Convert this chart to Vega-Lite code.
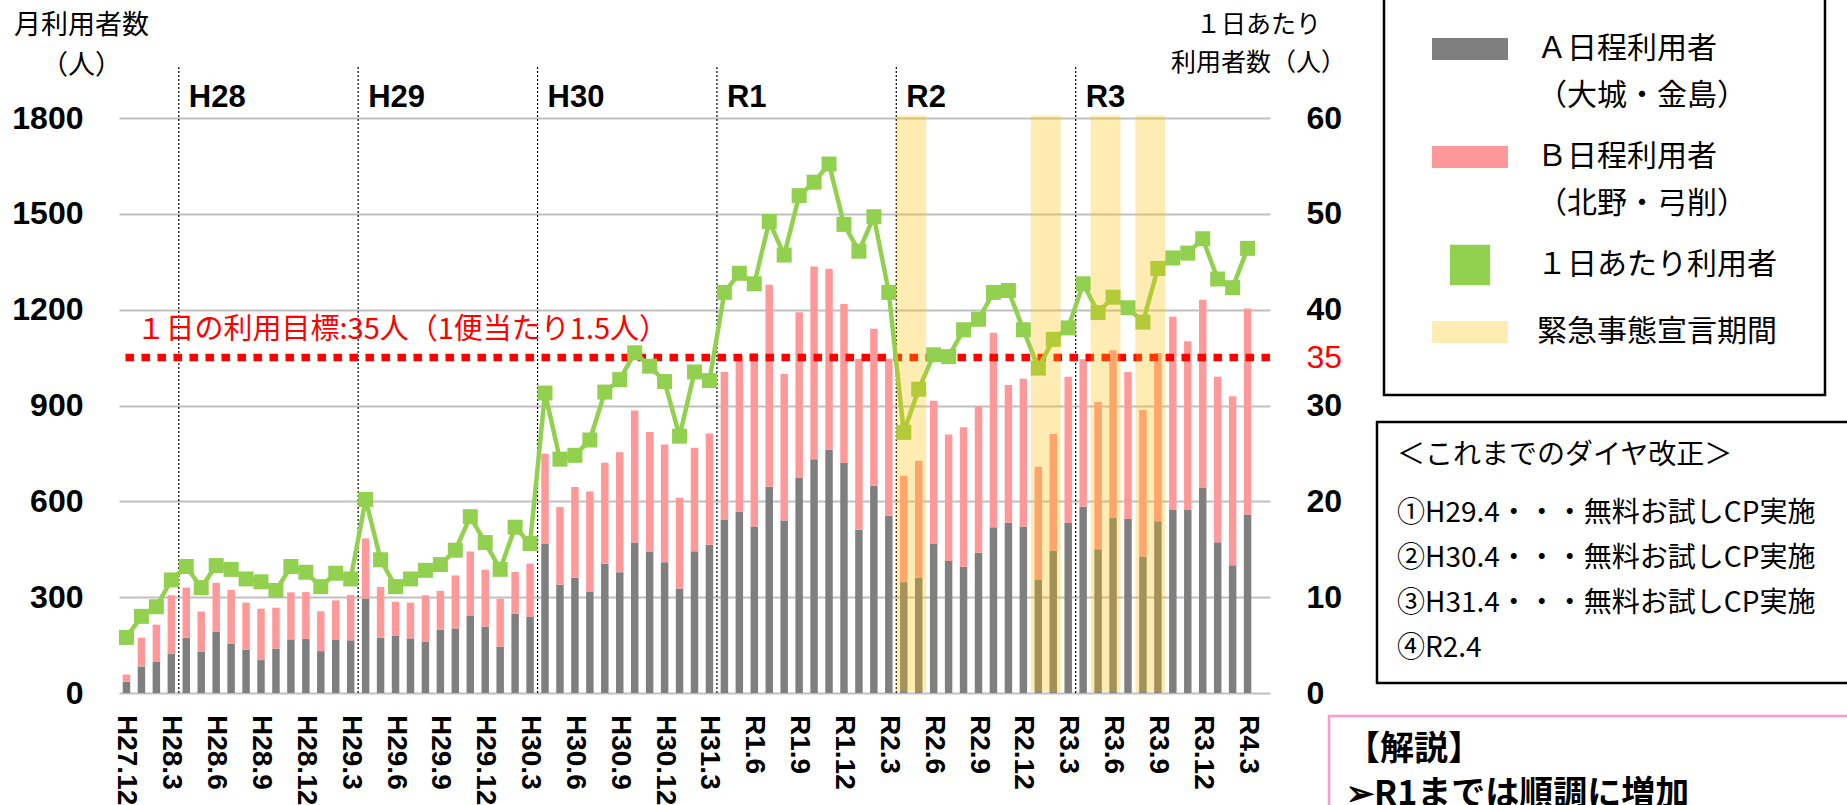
{
  "$schema": "https://vega.github.io/schema/vega-lite/v6.json",
  "width": 1151,
  "height": 575,
  "autosize": {"type": "none"},
  "padding": {"left": 119, "top": 118, "right": 577, "bottom": 112},
  "background": "white",
  "datasets": {
    "monthly": [
      {"month": "H27.12", "a": 35, "b": 23, "daily": 5.8},
      {"month": "H28.1", "a": 83, "b": 90, "daily": 8.0},
      {"month": "H28.2", "a": 97, "b": 117, "daily": 9.0},
      {"month": "H28.3", "a": 122, "b": 184, "daily": 11.8},
      {"month": "H28.4", "a": 173, "b": 157, "daily": 13.2},
      {"month": "H28.5", "a": 130, "b": 125, "daily": 11.0},
      {"month": "H28.6", "a": 192, "b": 153, "daily": 13.3},
      {"month": "H28.7", "a": 154, "b": 169, "daily": 12.9},
      {"month": "H28.8", "a": 136, "b": 147, "daily": 11.9},
      {"month": "H28.9", "a": 103, "b": 161, "daily": 11.6},
      {"month": "H28.10", "a": 139, "b": 128, "daily": 10.7},
      {"month": "H28.11", "a": 168, "b": 147, "daily": 13.2},
      {"month": "H28.12", "a": 170, "b": 146, "daily": 12.6},
      {"month": "H29.1", "a": 131, "b": 125, "daily": 11.1},
      {"month": "H29.2", "a": 166, "b": 124, "daily": 12.5},
      {"month": "H29.3", "a": 165, "b": 142, "daily": 11.9},
      {"month": "H29.4", "a": 296, "b": 188, "daily": 20.2},
      {"month": "H29.5", "a": 173, "b": 159, "daily": 13.9},
      {"month": "H29.6", "a": 180, "b": 106, "daily": 11.1},
      {"month": "H29.7", "a": 171, "b": 112, "daily": 11.9},
      {"month": "H29.8", "a": 161, "b": 145, "daily": 12.8},
      {"month": "H29.9", "a": 198, "b": 122, "daily": 13.4},
      {"month": "H29.10", "a": 202, "b": 166, "daily": 14.9},
      {"month": "H29.11", "a": 241, "b": 202, "daily": 18.4},
      {"month": "H29.12", "a": 208, "b": 178, "daily": 15.7},
      {"month": "H30.1", "a": 145, "b": 150, "daily": 12.9},
      {"month": "H30.2", "a": 248, "b": 131, "daily": 17.3},
      {"month": "H30.3", "a": 238, "b": 167, "daily": 15.6},
      {"month": "H30.4", "a": 468, "b": 281, "daily": 31.3},
      {"month": "H30.5", "a": 339, "b": 243, "daily": 24.4},
      {"month": "H30.6", "a": 361, "b": 284, "daily": 24.8},
      {"month": "H30.7", "a": 318, "b": 313, "daily": 26.4},
      {"month": "H30.8", "a": 405, "b": 316, "daily": 31.4},
      {"month": "H30.9", "a": 378, "b": 376, "daily": 32.7},
      {"month": "H30.10", "a": 471, "b": 413, "daily": 35.5},
      {"month": "H30.11", "a": 443, "b": 374, "daily": 34.1},
      {"month": "H30.12", "a": 409, "b": 369, "daily": 32.5},
      {"month": "H31.1", "a": 327, "b": 284, "daily": 26.8},
      {"month": "H31.2", "a": 444, "b": 324, "daily": 33.5},
      {"month": "H31.3", "a": 464, "b": 348, "daily": 32.6},
      {"month": "H31.4", "a": 543, "b": 462, "daily": 41.8},
      {"month": "R1.5", "a": 568, "b": 486, "daily": 43.8},
      {"month": "R1.6", "a": 521, "b": 543, "daily": 42.7},
      {"month": "R1.7", "a": 646, "b": 632, "daily": 49.2},
      {"month": "R1.8", "a": 540, "b": 459, "daily": 45.7},
      {"month": "R1.9", "a": 673, "b": 519, "daily": 51.9},
      {"month": "R1.10", "a": 732, "b": 603, "daily": 53.3},
      {"month": "R1.11", "a": 762, "b": 566, "daily": 55.2},
      {"month": "R1.12", "a": 720, "b": 498, "daily": 48.9},
      {"month": "R2.1", "a": 511, "b": 535, "daily": 46.1},
      {"month": "R2.2", "a": 649, "b": 491, "daily": 49.7},
      {"month": "R2.3", "a": 555, "b": 491, "daily": 41.8},
      {"month": "R2.4", "a": 347, "b": 333, "daily": 27.2, "emergency": true},
      {"month": "R2.5", "a": 361, "b": 366, "daily": 31.7, "emergency": true},
      {"month": "R2.6", "a": 468, "b": 447, "daily": 35.3},
      {"month": "R2.7", "a": 413, "b": 396, "daily": 35.1},
      {"month": "R2.8", "a": 395, "b": 437, "daily": 37.9},
      {"month": "R2.9", "a": 439, "b": 459, "daily": 39.0},
      {"month": "R2.10", "a": 519, "b": 609, "daily": 41.8},
      {"month": "R2.11", "a": 533, "b": 431, "daily": 42.0},
      {"month": "R2.12", "a": 521, "b": 463, "daily": 37.9},
      {"month": "R3.1", "a": 355, "b": 353, "daily": 33.9, "emergency": true},
      {"month": "R3.2", "a": 446, "b": 365, "daily": 36.9, "emergency": true},
      {"month": "R3.3", "a": 532, "b": 458, "daily": 38.1},
      {"month": "R3.4", "a": 584, "b": 461, "daily": 42.7},
      {"month": "R3.5", "a": 450, "b": 461, "daily": 39.7, "emergency": true},
      {"month": "R3.6", "a": 549, "b": 524, "daily": 41.3, "emergency": true},
      {"month": "R3.7", "a": 545, "b": 460, "daily": 40.2},
      {"month": "R3.8", "a": 427, "b": 459, "daily": 38.7, "emergency": true},
      {"month": "R3.9", "a": 538, "b": 526, "daily": 44.3, "emergency": true},
      {"month": "R3.10", "a": 573, "b": 605, "daily": 45.4},
      {"month": "R3.11", "a": 573, "b": 528, "daily": 45.9},
      {"month": "R3.12", "a": 643, "b": 588, "daily": 47.4},
      {"month": "R4.1", "a": 472, "b": 518, "daily": 43.2},
      {"month": "R4.2", "a": 400, "b": 529, "daily": 42.3},
      {"month": "R4.3", "a": 559, "b": 645, "daily": 46.4}
    ],
    "fiscal": [
      {"month": "H28.4", "fy": "H28"},
      {"month": "H29.4", "fy": "H29"},
      {"month": "H30.4", "fy": "H30"},
      {"month": "H31.4", "fy": "R1"},
      {"month": "R2.4", "fy": "R2"},
      {"month": "R3.4", "fy": "R3"}
    ],
    "target": [
      {"target": 35, "label": "１日の利用目標:35人（1便当たり1.5人）"}
    ],
    "dia": [
      {"line": "①H29.4・・・無料お試しCP実施"},
      {"line": "②H30.4・・・無料お試しCP実施"},
      {"line": "③H31.4・・・無料お試しCP実施"},
      {"line": "④R2.4"}
    ],
    "comment": [
      {"line": "➢R1までは順調に増加"}
    ]
  },
  "config": {
    "view": {"stroke": null},
    "font": "Noto Sans CJK JP",
    "axis": {
      "domain": false,
      "ticks": false,
      "tickSize": 0,
      "labelOverlap": false,
      "labelColor": "black",
      "titleColor": "black",
      "labelFont": "Liberation Sans",
      "labelFontWeight": "bold"
    },
    "legend": {"strokeWidth": 2.5}
  },
  "resolve": {"scale": {"y": "independent"}},
  "layer": [
    {
      "data": {"name": "monthly"},
      "transform": [{"fold": ["a", "b"], "as": ["series", "users"]}],
      "mark": {"type": "bar"},
      "encoding": {
        "x": {
          "field": "month",
          "type": "ordinal",
          "scale": {
            "domain": ["H27.12","H28.1","H28.2","H28.3","H28.4","H28.5","H28.6","H28.7","H28.8","H28.9","H28.10","H28.11","H28.12","H29.1","H29.2","H29.3","H29.4","H29.5","H29.6","H29.7","H29.8","H29.9","H29.10","H29.11","H29.12","H30.1","H30.2","H30.3","H30.4","H30.5","H30.6","H30.7","H30.8","H30.9","H30.10","H30.11","H30.12","H31.1","H31.2","H31.3","H31.4","R1.5","R1.6","R1.7","R1.8","R1.9","R1.10","R1.11","R1.12","R2.1","R2.2","R2.3","R2.4","R2.5","R2.6","R2.7","R2.8","R2.9","R2.10","R2.11","R2.12","R3.1","R3.2","R3.3","R3.4","R3.5","R3.6","R3.7","R3.8","R3.9","R3.10","R3.11","R3.12","R4.1","R4.2","R4.3"],
            "paddingInner": 0.5,
            "paddingOuter": 0.75,
            "align": 0.1667
          },
          "axis": null
        },
        "y": {
          "field": "users",
          "type": "quantitative",
          "stack": "zero",
          "scale": {"domain": [0, 1800], "nice": false},
          "axis": {
            "orient": "left",
            "values": [0, 300, 600, 900, 1200, 1500, 1800],
            "format": "d",
            "grid": true,
            "gridColor": "#C0C0C0",
            "gridWidth": 2,
            "labelFontSize": 32,
            "labelPadding": 36,
            "title": ["月利用者数", "（人）"],
            "titleAngle": 0,
            "titleAlign": "center",
            "titleBaseline": "top",
            "titleX": -38,
            "titleY": -106,
            "titleFont": "Noto Sans CJK JP",
            "titleFontSize": 27,
            "titleFontWeight": "normal",
            "titleLineHeight": 40
          }
        },
        "color": {
          "field": "series",
          "type": "nominal",
          "scale": {
            "domain": ["a", "b", "daily", "emergency"],
            "range": ["#7F7F7F", "#FF9999", "#92D050", "#FFC000"]
          },
          "legend": {
            "orient": "none",
            "legendX": 1265,
            "legendY": -155,
            "title": null,
            "padding": 48,
            "strokeColor": "black",
            "rowPadding": 8,
            "symbolType": {"expr": "datum.value === 'daily' ? 'M-0.53,-0.53H0.53V0.53H-0.53Z' : 'M-1,-0.29H1V0.29H-1Z'"},
            "symbolSize": 5776,
            "symbolStrokeWidth": 0,
            "symbolOpacity": {"expr": "datum.value === 'emergency' ? 0.3 : 1"},
            "labelExpr": "datum.value === 'a' ? ['Ａ日程利用者', '（大城・金島）'] : datum.value === 'b' ? ['Ｂ日程利用者', '（北野・弓削）'] : datum.value === 'daily' ? '１日あたり利用者' : '緊急事態宣言期間'",
            "labelFont": "Noto Sans CJK JP",
            "labelFontSize": 30,
            "labelColor": "black",
            "labelLimit": 1000,
            "labelOffset": 29,
            "labelBaseline": "middle",
            "encode": {"labels": {"update": {"lineHeight": {"value": 47}}}}
          }
        },
        "order": {"field": "series", "type": "ordinal", "sort": "ascending"}
      }
    },
    {
      "data": {"name": "monthly"},
      "transform": [{"filter": {"field": "month", "oneOf": ["H27.12","H28.3","H28.6","H28.9","H28.12","H29.3","H29.6","H29.9","H29.12","H30.3","H30.6","H30.9","H30.12","H31.3","R1.6","R1.9","R1.12","R2.3","R2.6","R2.9","R2.12","R3.3","R3.6","R3.9","R3.12","R4.3"]}}],
      "mark": {"type": "text", "angle": 90, "align": "left", "baseline": "middle", "dx": 22, "font": "Liberation Sans", "fontWeight": "bold", "fontSize": 28, "color": "black"},
      "encoding": {
        "x": {"field": "month", "type": "ordinal", "axis": null},
        "y": {"datum": 0, "type": "quantitative", "scale": {"domain": [0, 1800], "nice": false}, "axis": null},
        "text": {"field": "month"}
      }
    },
    {
      "data": {"name": "fiscal"},
      "mark": {"type": "rule", "color": "black", "strokeWidth": 1.2, "strokeDash": [2, 2]},
      "encoding": {
        "x": {"field": "month", "type": "ordinal", "bandPosition": -0.5, "axis": null},
        "y": {"datum": 0, "type": "quantitative", "scale": {"domain": [0, 1800], "nice": false}, "axis": null},
        "y2": {"datum": 1966}
      }
    },
    {
      "data": {"name": "fiscal"},
      "mark": {"type": "text", "align": "left", "baseline": "middle", "dx": 10, "font": "Liberation Sans", "fontWeight": "bold", "fontSize": 31, "color": "black"},
      "encoding": {
        "x": {"field": "month", "type": "ordinal", "bandPosition": -0.5, "axis": null},
        "y": {"datum": 1862, "type": "quantitative", "scale": {"domain": [0, 1800], "nice": false}, "axis": null},
        "text": {"field": "fy"}
      }
    },
    {
      "data": {"name": "target"},
      "mark": {"type": "rule", "color": "#FF0000", "strokeWidth": 7.5, "strokeDash": [8.5, 7.5]},
      "encoding": {
        "y": {
          "field": "target",
          "type": "quantitative",
          "scale": {"domain": [0, 60], "nice": false},
          "axis": {
            "orient": "right",
            "values": [0, 10, 20, 30, 35, 40, 50, 60],
            "grid": false,
            "labelFontSize": 32,
            "labelPadding": 36,
            "labelAlign": "left",
            "labelColor": {"condition": {"test": "datum.value === 35", "value": "#FF0000"}, "value": "black"},
            "labelFontWeight": {"condition": {"test": "datum.value === 35", "value": "normal"}, "value": "bold"},
            "title": ["１日あたり", "利用者数（人）"],
            "titleAngle": 0,
            "titleAlign": "center",
            "titleBaseline": "top",
            "titleX": -12,
            "titleY": -106,
            "titleFont": "Noto Sans CJK JP",
            "titleFontSize": 25,
            "titleFontWeight": "normal",
            "titleLineHeight": 38
          }
        }
      }
    },
    {
      "data": {"name": "target"},
      "mark": {"type": "text", "align": "left", "baseline": "middle", "dx": 10, "dy": -28, "fontSize": 29, "color": "#FF0000", "font": "Noto Sans CJK JP"},
      "encoding": {
        "x": {"datum": "H27.12", "type": "ordinal", "axis": null},
        "y": {"field": "target", "type": "quantitative", "scale": {"domain": [0, 60], "nice": false}, "axis": null},
        "text": {"field": "label"}
      }
    },
    {
      "data": {"name": "monthly"},
      "mark": {"type": "line", "strokeWidth": 4.5},
      "encoding": {
        "x": {"field": "month", "type": "ordinal", "axis": null},
        "y": {"field": "daily", "type": "quantitative", "scale": {"domain": [0, 60], "nice": false}, "axis": null},
        "color": {"datum": "daily", "type": "nominal", "legend": null}
      }
    },
    {
      "data": {"name": "monthly"},
      "mark": {"type": "point", "shape": "square", "filled": true, "size": 225, "opacity": 1},
      "encoding": {
        "x": {"field": "month", "type": "ordinal", "axis": null},
        "y": {"field": "daily", "type": "quantitative", "scale": {"domain": [0, 60], "nice": false}, "axis": null},
        "color": {"datum": "daily", "type": "nominal", "legend": null}
      }
    },
    {
      "data": {"name": "monthly"},
      "transform": [{"filter": "datum.emergency === true"}],
      "mark": {"type": "bar", "width": {"band": 2}, "opacity": 0.3},
      "encoding": {
        "x": {"field": "month", "type": "ordinal", "axis": null},
        "y": {"datum": 1808, "type": "quantitative", "scale": {"domain": [0, 1800], "nice": false}, "axis": null},
        "y2": {"datum": 3},
        "color": {"datum": "emergency", "type": "nominal", "legend": null}
      }
    },
    {
      "data": {"name": "dia"},
      "mark": {"type": "point", "opacity": 0},
      "encoding": {
        "shape": {
          "field": "line",
          "type": "nominal",
          "sort": null,
          "legend": {
            "orient": "none",
            "legendX": 1258,
            "legendY": 304,
            "title": "＜これまでのダイヤ改正＞",
            "titleFont": "Noto Sans CJK JP",
            "titleFontSize": 28,
            "titleFontWeight": "normal",
            "titleColor": "black",
            "titlePadding": 30,
            "titleLimit": 1000,
            "labelFont": "Noto Sans CJK JP",
            "labelFontSize": 28,
            "labelColor": "black",
            "labelLimit": 1000,
            "symbolSize": 1,
            "symbolOpacity": 0,
            "symbolOffset": 520,
            "labelOffset": -548,
            "rowPadding": 17,
            "padding": 20,
            "strokeColor": "black"
          }
        }
      }
    },
    {
      "data": {"name": "comment"},
      "mark": {"type": "point", "opacity": 0},
      "encoding": {
        "strokeDash": {
          "field": "line",
          "type": "nominal",
          "legend": {
            "orient": "none",
            "legendX": 1210,
            "legendY": 598,
            "title": "【解説】",
            "titleFont": "Noto Sans CJK JP",
            "titleFontSize": 34,
            "titleFontWeight": "bold",
            "titleColor": "black",
            "titlePadding": 11,
            "titleLimit": 1000,
            "labelFont": "Noto Sans CJK JP",
            "labelFontSize": 34,
            "labelFontWeight": "bold",
            "labelColor": "black",
            "labelLimit": 1000,
            "symbolSize": 1,
            "symbolOpacity": 0,
            "symbolOffset": 520,
            "labelOffset": -554,
            "padding": 17,
            "strokeColor": "#FF99CC"
          }
        }
      }
    }
  ]
}
